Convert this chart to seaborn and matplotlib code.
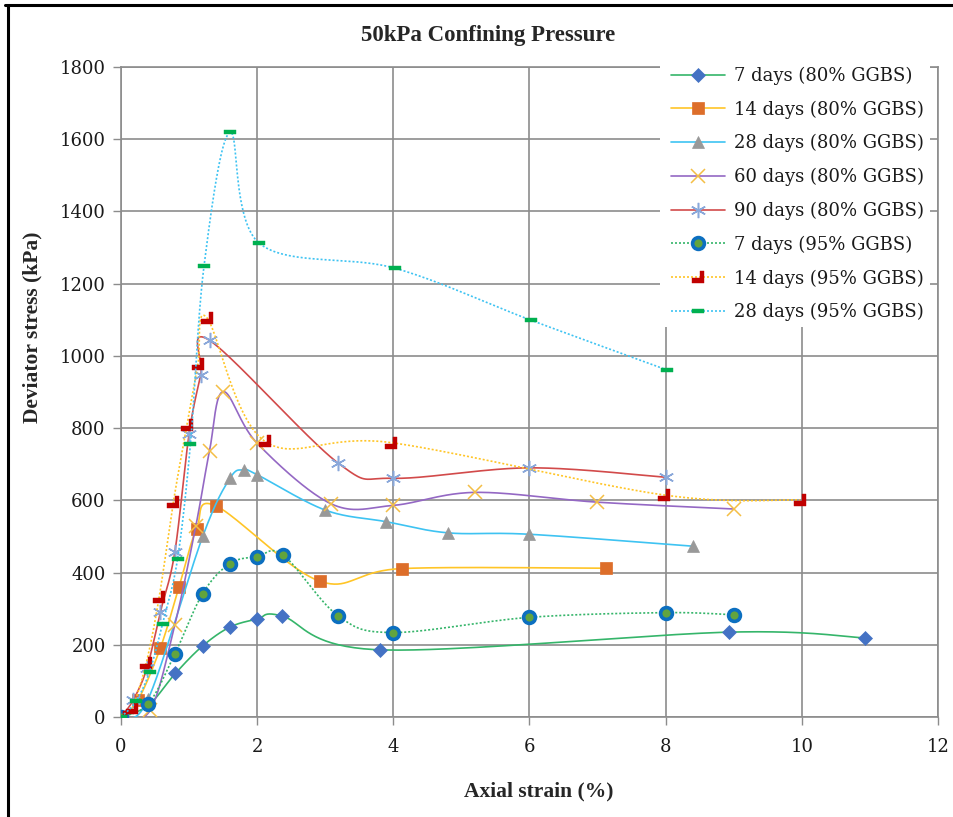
import numpy as np
import matplotlib
matplotlib.use("Agg")
import matplotlib.pyplot as plt
import seaborn as sns
from matplotlib.lines import Line2D
from matplotlib.patches import Rectangle
from matplotlib.path import Path

# ---------------- data ----------------
x_7d80 = [0, 0.4, 0.8, 1.2, 1.6, 2.0, 2.36, 3.8, 8.93, 10.93]
y_7d80 = [0, 32, 121, 197, 249, 271, 280, 186, 235, 219]

x_14d80 = [0, 0.25, 0.58, 0.85, 1.11, 1.39, 2.92, 4.12, 7.12]
y_14d80 = [0, 47, 192, 359, 522, 585, 376, 411, 412]

x_28d80 = [0, 0.4, 1.2, 1.6, 1.8, 2.0, 3.0, 3.89, 4.8, 6.0, 8.4]
y_28d80 = [0, 50, 500, 661, 684, 671, 573, 541, 510, 506, 473]

x_60d80 = [0, 0.43, 0.79, 1.1, 1.3, 1.5, 2.0, 3.09, 4.0, 5.2, 6.99, 9.0]
y_60d80 = [0, 19, 255, 530, 737, 901, 758, 590, 586, 622, 595, 576]

x_90d80 = [0, 0.18, 0.38, 0.58, 0.79, 1.0, 1.17, 1.3, 3.19, 4.0, 6.0, 8.0]
y_90d80 = [0, 47, 135, 292, 456, 784, 946, 1043, 703, 661, 690, 664]

x_7d95 = [0, 0.4, 0.79, 1.2, 1.6, 2.0, 2.38, 3.19, 4.0, 6.0, 8.0, 9.0]
y_7d95 = [0, 36, 174, 342, 425, 444, 449, 280, 234, 276, 289, 283]

x_14d95 = [0, 0.16, 0.37, 0.56, 0.77, 0.97, 1.13, 1.26, 2.11, 3.96, 7.97, 9.97]
y_14d95 = [0, 24, 149, 331, 596, 810, 977, 1106, 764, 760, 615, 601]

x_28d95 = [0, 0.22, 0.42, 0.61, 0.83, 1.02, 1.22, 1.6, 2.03, 4.02, 6.02, 8.02]
y_28d95 = [0, 43, 126, 258, 437, 756, 1250, 1619, 1312, 1243, 1099, 961]

labels = ["7 days (80% GGBS)", "14 days (80% GGBS)", "28 days (80% GGBS)",
          "60 days (80% GGBS)", "90 days (80% GGBS)", "7 days (95% GGBS)",
          "14 days (95% GGBS)", "28 days (95% GGBS)"]

x_ticks = [0, 2, 4, 6, 8, 10, 12]
y_ticks = [0, 200, 400, 600, 800, 1000, 1200, 1400, 1600, 1800]

title = "50kPa Confining Pressure"
xlabel = "Axial strain (%)"
ylabel = "Deviator stress (kPa)"

# ---------------- style ----------------
sns.set_theme(style="white")
plt.rcParams["font.family"] = ["DejaVu Serif"]

W, H = 954, 817
fig = plt.figure(figsize=(W / 100, H / 100), dpi=100)
L, R, T, B = 121, 938, 67, 717
ax = fig.add_axes([L / W, 1 - B / H, (R - L) / W, (B - T) / H])
ax.set_xlim(0, 12)
ax.set_ylim(0, 1800)

SX = (R - L) / 12.0
SY = (B - T) / 1800.0


def smooth(xs, ys, n=40):
    """Excel-like smoothed line (Catmull-Rom Bezier) computed in display space."""
    P = np.column_stack([np.asarray(xs, float) * SX, np.asarray(ys, float) * SY])
    out = [P[0]]
    m = len(P)
    for i in range(m - 1):
        p0 = P[i - 1] if i > 0 else P[i]
        p1 = P[i]
        p2 = P[i + 1]
        p3 = P[i + 2] if i + 2 < m else P[i + 1]
        c1 = p1 + (p2 - p0) / 6.0
        c2 = p2 - (p3 - p1) / 6.0
        t = np.linspace(0, 1, n)[1:, None]
        seg = ((1 - t) ** 3) * p1 + 3 * ((1 - t) ** 2) * t * c1 + 3 * (1 - t) * t ** 2 * c2 + t ** 3 * p2
        out.extend(seg)
    out = np.array(out)
    return out[:, 0] / SX, out[:, 1] / SY


L_marker = Path([(-1, -1), (1, -1), (1, 1), (0.25, 1), (0.25, -0.2), (-1, -0.2), (-1, -1)],
                [Path.MOVETO] + [Path.LINETO] * 5 + [Path.CLOSEPOLY])
dash_marker = Path([(-1, -0.42), (1, -0.42), (1, 0.42), (-1, 0.42), (-1, -0.42)],
                   [Path.MOVETO] + [Path.LINETO] * 3 + [Path.CLOSEPOLY])

dotted = (0, (1.2, 1.2))
series = [
    (x_7d80, y_7d80, dict(color="#35B56A", ls="-"), dict(marker="D", ms=7.5, mfc="#4472C4", mec="#4472C4", mew=0.5)),
    (x_14d80, y_14d80, dict(color="#FFC527", ls="-"), dict(marker="s", ms=8, mfc="#DD6E2A", mec="#DD6E2A", mew=0.5)),
    (x_28d80, y_28d80, dict(color="#3EC3F2", ls="-"), dict(marker="^", ms=9, mfc="#999999", mec="#999999", mew=0.5)),
    (x_60d80, y_60d80, dict(color="#9468C4", ls="-"), dict(marker="x", ms=10, mfc="none", mec="#F4BE45", mew=1.1)),
    (x_90d80, y_90d80, dict(color="#D24A4A", ls="-"), dict(marker=(6, 2, 0), ms=11, mfc="none", mec="#8AA8DA", mew=1.1)),
    (x_7d95, y_7d95, dict(color="#35B56A", ls=dotted), dict(marker="o", ms=8.5, mfc="#62A43E", mec="#0C6FC0", mew=2.6)),
    (x_14d95, y_14d95, dict(color="#FFC527", ls=dotted), dict(marker=L_marker, ms=9, mfc="#C00000", mec="#C00000", mew=0.3)),
    (x_28d95, y_28d95, dict(color="#3EC3F2", ls=dotted), dict(marker=dash_marker, ms=8, mfc="#00B050", mec="#00B050", mew=0.3)),
]

handles = []
for k, (xs, ys, lstyle, mstyle) in enumerate(series):
    xx, yy = smooth(xs, ys)
    sns.lineplot(x=xx, y=yy, sort=False, estimator=None, ax=ax, color=lstyle["color"],
                 linestyle=lstyle["ls"], linewidth=1.2, zorder=3 + k * 0.1)
    ax.plot(xs, ys, linestyle="none", zorder=3.05 + k * 0.1, **mstyle)
    handles.append(Line2D([0], [0], color=lstyle["color"], linestyle=lstyle["ls"], linewidth=1.2, **mstyle))

# grid, spines, ticks
grid_c = "#8C8C8C"
ax.set_xticks(x_ticks)
ax.set_yticks(y_ticks)
ax.grid(True, color=grid_c, linewidth=1.2, zorder=1)
ax.set_axisbelow(True)
for s in ax.spines.values():
    s.set_color(grid_c)
    s.set_linewidth(1.2)
ax.tick_params(axis="both", which="major", direction="out", length=6, width=1.0,
               color=grid_c, labelsize=13, labelcolor="#1a1a1a", pad=5,
               left=True, bottom=True)
ax.tick_params(axis="x", pad=9)
ax.xaxis.set_major_formatter(matplotlib.ticker.FuncFormatter(lambda v, p: f"{v:g}"))

ax.set_xlabel(xlabel, family="Liberation Serif", fontweight="bold", fontsize=15.5)
ax.set_ylabel(ylabel, family="Liberation Serif", fontweight="bold", fontsize=15.5)
ax.xaxis.set_label_coords((539 - L) / (R - L), (B - 781) / (B - T))
ax.yaxis.set_label_coords((42 - L) / (R - L), (B - 327) / (B - T))
fig.text(488 / W, 1 - 36 / H, title, family="Liberation Serif", fontweight="bold",
         fontsize=16.5, ha="center", va="center")

# legend area (white box covering grid)
ax.add_patch(Rectangle((660 / SX - L / SX, (B - 327) / SY), (930 - 660) / SX, (327 - 60) / SY,
                       transform=ax.transData, facecolor="white", edgecolor="none",
                       zorder=10, clip_on=False))
leg = ax.legend(handles, labels, loc="upper left",
                bbox_to_anchor=((667 - L) / (R - L), 1 - (63 - T) / (B - T)),
                frameon=False, fontsize=13, handlelength=3.0, handletextpad=0.5,
                labelspacing=0.86, borderpad=0.2, borderaxespad=0)
leg.set_zorder(11)
for t in leg.get_texts():
    t.set_color("#1a1a1a")

# outer border lines
fig.add_artist(Line2D([5 / W, 1], [1 - 5 / H, 1 - 5 / H], color="black", lw=2.2, transform=fig.transFigure))
fig.add_artist(Line2D([8 / W, 8 / W], [0, 1 - 5 / H], color="black", lw=2.2, transform=fig.transFigure))

fig.savefig("out.png", dpi=100, facecolor="white")
